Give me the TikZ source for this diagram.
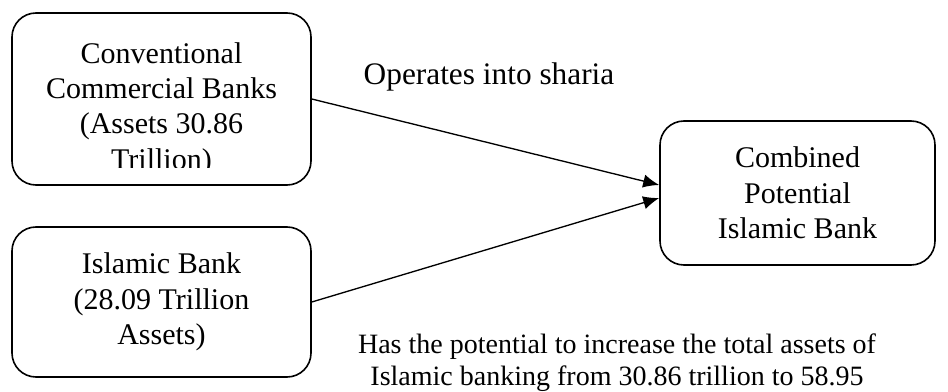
\documentclass[tikz,border=0pt]{standalone}
\usepackage{fontspec}
\setmainfont{Liberation Serif}
\usetikzlibrary{
  arrows.meta,
  calc
}
\tikzset{
  % For the rounded bank boxes.
  box/.style={
    draw,
    line width=1.2pt,
    rounded corners=18pt,
    align=center,
    inner sep=0pt,
    font=\fontsize{22.5}{26.5}\selectfont},
%
  % For the texts inside and beside the boxes.
  description/.style={
    font=\fontsize{22.5}{26.5}\selectfont,
    align=center,
    inner sep=0pt},
%
  % For arrows with one filled head.
  direction/.style={
    line width=1pt,
    -{Latex[length=12pt,width=10pt]}}
}

\begin{document}
\begin{tikzpicture}[x=0.75pt, y=-0.75pt]
  \useasboundingbox (0,0) rectangle (948,392);

  \node[box, minimum width=224.25pt, minimum height=129pt]
    (conventional) at (161.5,99) {};
  % The last line is cut off by the box, as in the source.
  \begin{scope}
    \clip (12,13) rectangle (311,167);
    \node[description] (conventional text) at (161.5,109)
      {Conventional\\Commercial Banks\\(Assets 30.86\\Trillion)};
  \end{scope}

  \node[box, minimum width=224.25pt, minimum height=112.5pt]
    (islamic) at (161.5,302) {Islamic Bank\\(28.09 Trillion\\Assets)};

  \node[box, minimum width=206.25pt, minimum height=108pt]
    (combined) at (797.5,193) {Combined\\Potential\\Islamic Bank};

  \coordinate (in top) at ($(combined.west) + (0,-8)$);
  \coordinate (in bottom) at ($(combined.west) + (0,5)$);

  \draw[direction] (conventional.east) -- (in top);
  \draw[direction] (islamic.east) -- (in bottom);

  \node[description, anchor=base, font=\fontsize{23.5}{26.5}\selectfont]
    (sharia) at (489,85) {Operates into sharia};

  \node[description, anchor=north,
        font=\fontsize{21}{24}\selectfont] (increase) at (617,334)
    {Has the potential to increase the total assets of\\
     Islamic banking from 30.86 trillion to 58.95};
\end{tikzpicture}
\end{document}
